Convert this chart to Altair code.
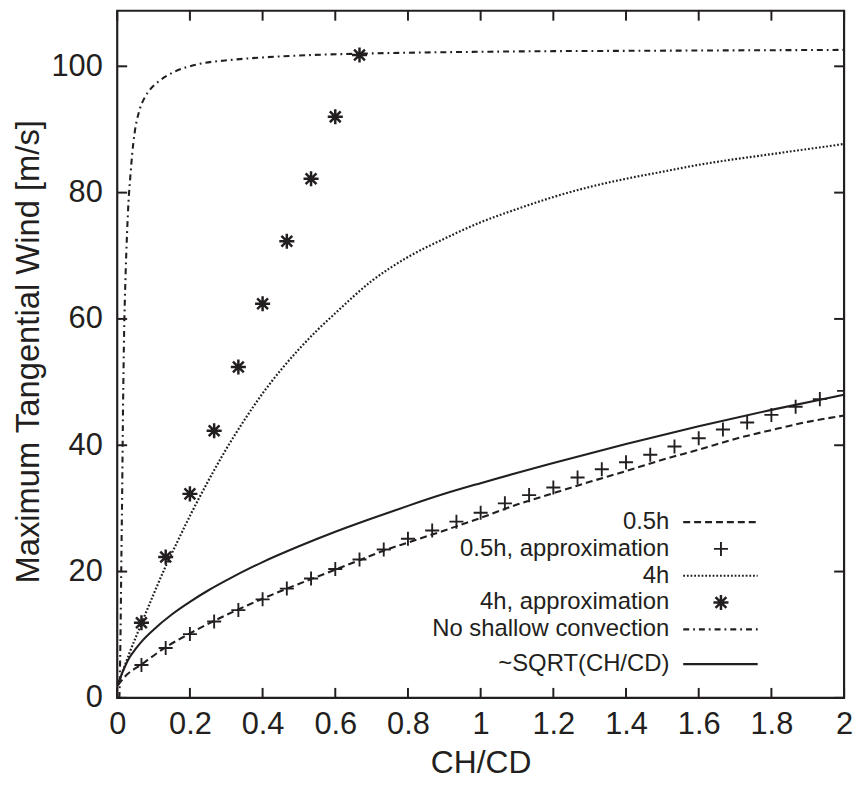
import altair as alt
import pandas as pd

# ---------------- data ----------------
# 0.5h (dashed line)
h05_x = [0.002, 0.02, 0.067, 0.133, 0.2, 0.267, 0.333, 0.4, 0.467, 0.533, 0.6, 0.667,
         0.733, 0.8, 0.9, 1.0, 1.1, 1.2, 1.3, 1.4, 1.5, 1.6, 1.7, 1.8, 1.9, 2.0]
h05_y = [2.0, 3.3, 5.3, 8.0, 10.2, 12.2, 14.0, 15.7, 17.3, 18.8, 20.3, 21.8,
         23.3, 24.6, 26.5, 28.5, 30.6, 32.4, 34.2, 35.9, 37.7, 39.3, 41.0, 42.4, 43.7, 44.7]

# 0.5h, approximation (plus markers)
h05a_x = [k / 15 for k in range(1, 31)]
h05a_y = [5.2, 7.9, 10.1, 12.1, 13.9, 15.6, 17.3, 18.9, 20.4, 21.9,
          23.5, 25.2, 26.5, 27.9, 29.3, 30.8, 32.1, 33.3, 34.9, 36.2,
          37.3, 38.5, 39.8, 41.1, 42.5, 43.6, 44.8, 46.1, 47.3, 48.6]

# 4h (dotted line)
h4_x = [0.002, 0.033, 0.067, 0.1, 0.133, 0.167, 0.2, 0.25, 0.3, 0.35, 0.4, 0.45, 0.5,
        0.55, 0.6, 0.7, 0.8, 0.9, 1.0, 1.1, 1.2, 1.3, 1.4, 1.5, 1.6, 1.7, 1.8, 1.9, 2.0]
h4_y = [2.0, 7.0, 11.8, 16.4, 20.8, 24.9, 28.8, 34.3, 39.4, 44.0, 48.2, 51.9, 55.2,
        58.2, 60.9, 66.0, 69.8, 72.7, 75.3, 77.4, 79.3, 80.9, 82.2, 83.3, 84.4, 85.3, 86.1, 86.9, 87.7]

# 4h, approximation (star markers)
h4a_x = [k / 15 for k in range(1, 11)]
h4a_y = [11.9, 22.3, 32.3, 42.3, 52.4, 62.4, 72.3, 82.2, 92.0, 101.8]

# No shallow convection (dash-dot line)
nsc_x = [0.006, 0.008, 0.0095, 0.011, 0.0135, 0.016, 0.019, 0.023, 0.027, 0.031, 0.036,
         0.041, 0.048, 0.06, 0.075, 0.09, 0.116, 0.16, 0.22, 0.31, 0.4, 0.54, 0.667,
         0.8, 1.0, 1.2, 1.4, 1.6, 1.8, 2.0]
nsc_y = [0.0, 6.0, 12.0, 20.0, 32.0, 46.0, 58.0, 67.0, 73.5, 78.5, 82.5,
         86.0, 89.5, 92.8, 95.0, 96.3, 97.7, 99.2, 100.3, 101.0, 101.4, 101.8, 102.0,
         102.15, 102.3, 102.4, 102.45, 102.5, 102.55, 102.6]

# ~SQRT(CH/CD) (solid line)
sq_x = [0.002, 0.01, 0.02, 0.035, 0.05, 0.07, 0.1, 0.15, 0.2, 0.25, 0.3, 0.4, 0.5, 0.6,
        0.7, 0.8, 0.9, 1.0, 1.2, 1.4, 1.6, 1.8, 2.0]
sq_y = [2.0, 3.4, 4.8, 6.5, 7.7, 9.1, 10.8, 13.2, 15.2, 17.0, 18.6, 21.5, 24.0, 26.3,
        28.4, 30.4, 32.3, 34.0, 37.2, 40.2, 43.0, 45.6, 48.0]

x_ticks = [0, 0.2, 0.4, 0.6, 0.8, 1.0, 1.2, 1.4, 1.6, 1.8, 2.0]
y_ticks = [0, 20, 40, 60, 80, 100]

legend_labels = ["0.5h", "0.5h, approximation", "4h", "4h, approximation",
                 "No shallow convection", "~SQRT(CH/CD)"]

# ---------------- styling ----------------
INK = "#231f20"
FONT = "Liberation Sans"
W, H = 732, 692
PLUS = "M-1,0L1,0M0,-1L0,1"
STAR = "M-1,0L1,0M0,-1L0,1M-0.72,-0.72L0.72,0.72M-0.72,0.72L0.72,-0.72"

xs = alt.Scale(domain=[0, 2], nice=False, zero=False)
ys = alt.Scale(domain=[0, 108.8], nice=False, zero=False)

x_axis = alt.Axis(values=x_ticks, format="~g", ticks=False, tickSize=0, domain=False, grid=False,
                  labelFlush=False, labelOverlap=False,
                  labelFont=FONT, labelFontSize=31, labelColor=INK, labelPadding=12,
                  title="CH/CD", titleFont=FONT, titleFontSize=32, titleFontWeight="normal",
                  titleColor=INK, titleBaseline="alphabetic", titleY=75)
y_axis = alt.Axis(values=y_ticks, ticks=False, tickSize=0, domain=False, grid=False,
                  labelFlush=False, labelOverlap=False,
                  labelFont=FONT, labelFontSize=31, labelColor=INK, labelPadding=15,
                  title="Maximum Tangential Wind [m/s]", titleFont=FONT, titleFontSize=33,
                  titleFontWeight="normal", titleColor=INK, titleBaseline="alphabetic",
                  titleX=-79, titleY=343, titleAlign="center", titleAngle=270)

X = lambda f: alt.X(f, scale=xs, axis=x_axis)
Y = lambda f: alt.Y(f, scale=ys, axis=y_axis)


def frame(xv, yv):
    return pd.DataFrame({"x": xv, "y": yv})


def line_layer(xv, yv, dash=None, width=2.0):
    kw = dict(color=INK, strokeWidth=width, interpolate="monotone", clip=True)
    if dash is not None:
        kw["strokeDash"] = dash
    return alt.Chart(frame(xv, yv)).mark_line(**kw).encode(x=X("x:Q"), y=Y("y:Q"))


def point_layer(xv, yv, shape, width, size):
    return alt.Chart(frame(xv, yv)).mark_point(
        shape=shape, size=size, filled=False, stroke=INK, strokeWidth=width,
        opacity=1, clip=True
    ).encode(x=X("x:Q"), y=Y("y:Q"))


DASH = [7, 4]
DOT = [1.8, 1.9]
DASHDOT = [6, 4, 1.8, 4]
PLUS_SIZE, STAR_SIZE = 200, 230

layers = [
    line_layer(sq_x, sq_y, None, 2.1),
    line_layer(h05_x, h05_y, DASH, 2.1),
    line_layer(h4_x, h4_y, DOT, 2.2),
    line_layer(nsc_x, nsc_y, DASHDOT, 2.1),
    point_layer(h05a_x, h05a_y, PLUS, 1.9, PLUS_SIZE),
    point_layer(h4a_x, h4a_y, STAR, 2.5, STAR_SIZE),
]

# inward ticks on all four sides
xt = pd.DataFrame({"v": x_ticks})
yt = pd.DataFrame({"v": y_ticks})
tick_len = 10
layers += [
    alt.Chart(xt).mark_rule(color=INK, strokeWidth=2).encode(
        x=X("v:Q"), y=alt.value(H), y2=alt.value(H - tick_len)),
    alt.Chart(xt).mark_rule(color=INK, strokeWidth=2).encode(
        x=X("v:Q"), y=alt.value(0), y2=alt.value(tick_len)),
    alt.Chart(yt).mark_rule(color=INK, strokeWidth=2).encode(
        y=Y("v:Q"), x=alt.value(0), x2=alt.value(tick_len)),
    alt.Chart(yt).mark_rule(color=INK, strokeWidth=2).encode(
        y=Y("v:Q"), x=alt.value(W - tick_len), x2=alt.value(W)),
]

# manual legend (labels left, samples right)
one = pd.DataFrame({"k": [0]})
leg_text_x = 556
leg_line_x1, leg_line_x2 = 570, 645
leg_sym_x = 608
leg_rows = [515, 542, 569, 596, 623, 658]
samples = [("line", DASH, 2.1), ("plus", None, 1.9), ("line", DOT, 2.2),
           ("star", None, 2.5), ("line", DASHDOT, 2.1), ("line", None, 2.1)]
for label, ly, (kind, dash, wdt) in zip(legend_labels, leg_rows, samples):
    layers.append(
        alt.Chart(one).mark_text(text=label, align="right", baseline="middle",
                                 font=FONT, fontSize=24, color=INK).encode(
            x=alt.value(leg_text_x), y=alt.value(ly)))
    if kind == "line":
        kw = dict(color=INK, strokeWidth=wdt)
        if dash is not None:
            kw["strokeDash"] = dash
        layers.append(alt.Chart(one).mark_rule(**kw).encode(
            x=alt.value(leg_line_x1), x2=alt.value(leg_line_x2), y=alt.value(ly)))
    else:
        layers.append(alt.Chart(one).mark_point(
            shape=PLUS if kind == "plus" else STAR,
            size=PLUS_SIZE if kind == "plus" else STAR_SIZE, filled=False,
            stroke=INK, strokeWidth=wdt, opacity=1).encode(
            x=alt.value(leg_sym_x), y=alt.value(ly)))

chart = alt.layer(*layers).properties(
    width=W, height=H,
    autosize=alt.AutoSizeParams(type="none"),
    padding={"left": 110, "top": 0, "right": 11, "bottom": 84},
    background="white",
).configure_view(stroke=INK, strokeWidth=2.2)

chart.save("out.html", embed_options={"renderer": "svg", "actions": False})
